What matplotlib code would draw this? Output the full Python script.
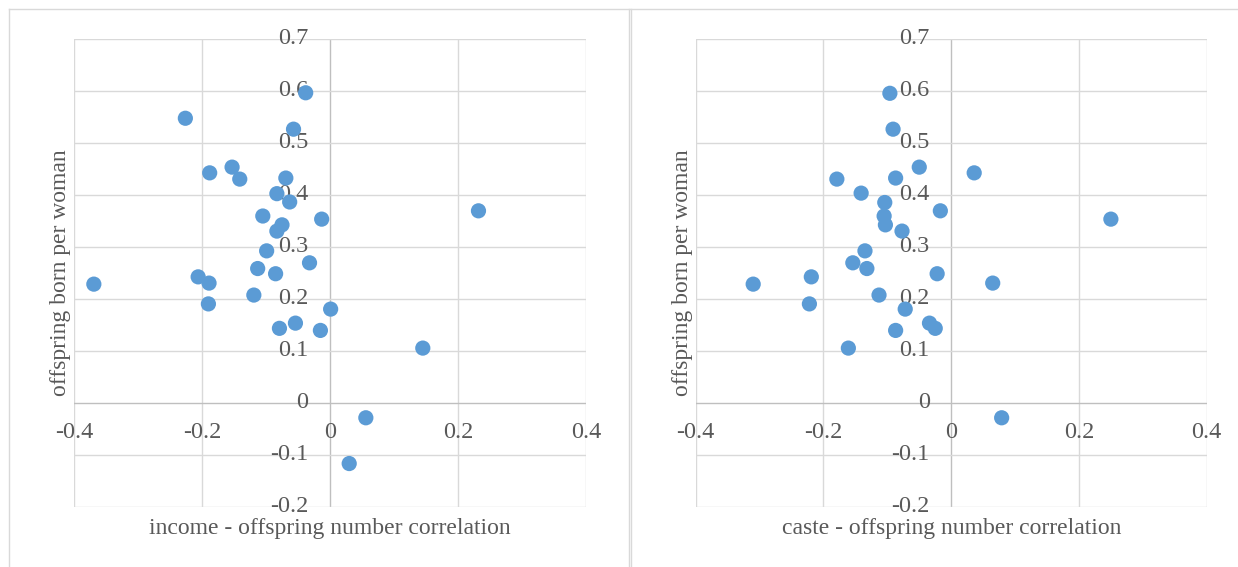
import matplotlib.pyplot as plt
from matplotlib.lines import Line2D

# income - offspring number correlation vs offspring born per woman
income_x = [-0.226, -0.038, -0.057, -0.188, -0.153, -0.141, -0.069, -0.083, -0.063, -0.105,
            -0.013, -0.075, -0.083, -0.099, -0.032, -0.113, -0.085, -0.369, -0.206, -0.189,
            -0.119, -0.190, -0.079, -0.054, -0.015, 0.001, 0.056, 0.030, 0.145, 0.232]
income_y = [0.547, 0.596, 0.526, 0.442, 0.453, 0.430, 0.432, 0.402, 0.386, 0.359,
            0.353, 0.342, 0.330, 0.292, 0.269, 0.258, 0.248, 0.228, 0.242, 0.230,
            0.207, 0.190, 0.143, 0.153, 0.139, 0.180, -0.029, -0.117, 0.105, 0.369]

# caste - offspring number correlation vs offspring born per woman
caste_x = [-0.096, -0.091, -0.179, -0.141, -0.087, -0.050, -0.104, -0.105, -0.103, -0.077,
           -0.135, -0.154, -0.132, -0.219, -0.310, 0.036, -0.017, 0.250, -0.022, 0.065,
           -0.222, -0.113, -0.072, -0.087, -0.034, -0.025, -0.161, 0.079]
caste_y = [0.595, 0.526, 0.430, 0.403, 0.432, 0.453, 0.385, 0.359, 0.342, 0.330,
           0.292, 0.269, 0.258, 0.242, 0.228, 0.442, 0.369, 0.353, 0.248, 0.230,
           0.190, 0.207, 0.180, 0.139, 0.153, 0.143, 0.105, -0.029]

x_ticks = [-0.4, -0.2, 0, 0.2, 0.4]
y_ticks = [-0.2, -0.1, 0, 0.1, 0.2, 0.3, 0.4, 0.5, 0.6, 0.7]

W, H = 1238, 567
fig = plt.figure(figsize=(W / 100, H / 100), dpi=100)
plt.rcParams['font.family'] = ['Liberation Serif', 'DejaVu Serif']

grid_c = '#d9d9d9'
axis_c = '#bfbfbf'
text_c = '#595959'
dot_c = '#5b9bd5'


def panel(rect, xs, ys, xlabel):
    ax = fig.add_axes(rect)
    ax.set_xlim(-0.4, 0.4)
    ax.set_ylim(-0.2, 0.7)
    for s in ax.spines.values():
        s.set_visible(False)
    ax.set_xticks([])
    ax.set_yticks([])
    for xv in x_ticks:
        ax.axvline(xv, color=axis_c if xv == 0 else grid_c, lw=1.0, zorder=1)
    for yv in y_ticks:
        ax.axhline(yv, color=axis_c if yv == 0 else grid_c, lw=1.0, zorder=1)
    # tick labels sit next to the zero axes
    for yv in y_ticks:
        ax.annotate(f'{yv:g}', (0, yv), xytext=(-15.5, 0), textcoords='offset points',
                    ha='right', va='center', fontsize=17.5, color=text_c, zorder=2)
    for xv in x_ticks:
        ax.annotate(f'{xv:g}', (xv, 0), xytext=(0, -21.5), textcoords='offset points',
                    ha='center', va='center', fontsize=17.5, color=text_c, zorder=2)
    ax.scatter(xs, ys, s=120, color=dot_c, edgecolors='none', zorder=3, clip_on=False)
    ax.set_xlabel(xlabel, fontsize=17, color=text_c, labelpad=8)
    ax.set_ylabel('offspring born per woman', fontsize=17, color=text_c, labelpad=2)
    return ax


ax1 = panel([74 / W, 1 - 506.7 / H, 512 / W, 468 / H], income_x, income_y,
            'income - offspring number correlation')
ax2 = panel([695.7 / W, 1 - 506.7 / H, 511 / W, 468 / H], caste_x, caste_y,
            'caste - offspring number correlation')

# chart borders
for xs_, ys_ in [([8.5, W], [8.5, 8.5]), ([9, 9], [8.5, H]),
                 ([629, 629], [8.5, H]), ([631, 631], [8.5, H])]:
    fig.add_artist(Line2D([x / W for x in xs_], [1 - y / H for y in ys_],
                          color=grid_c, lw=1.0, transform=fig.transFigure))

fig.savefig('out.png', dpi=100)
